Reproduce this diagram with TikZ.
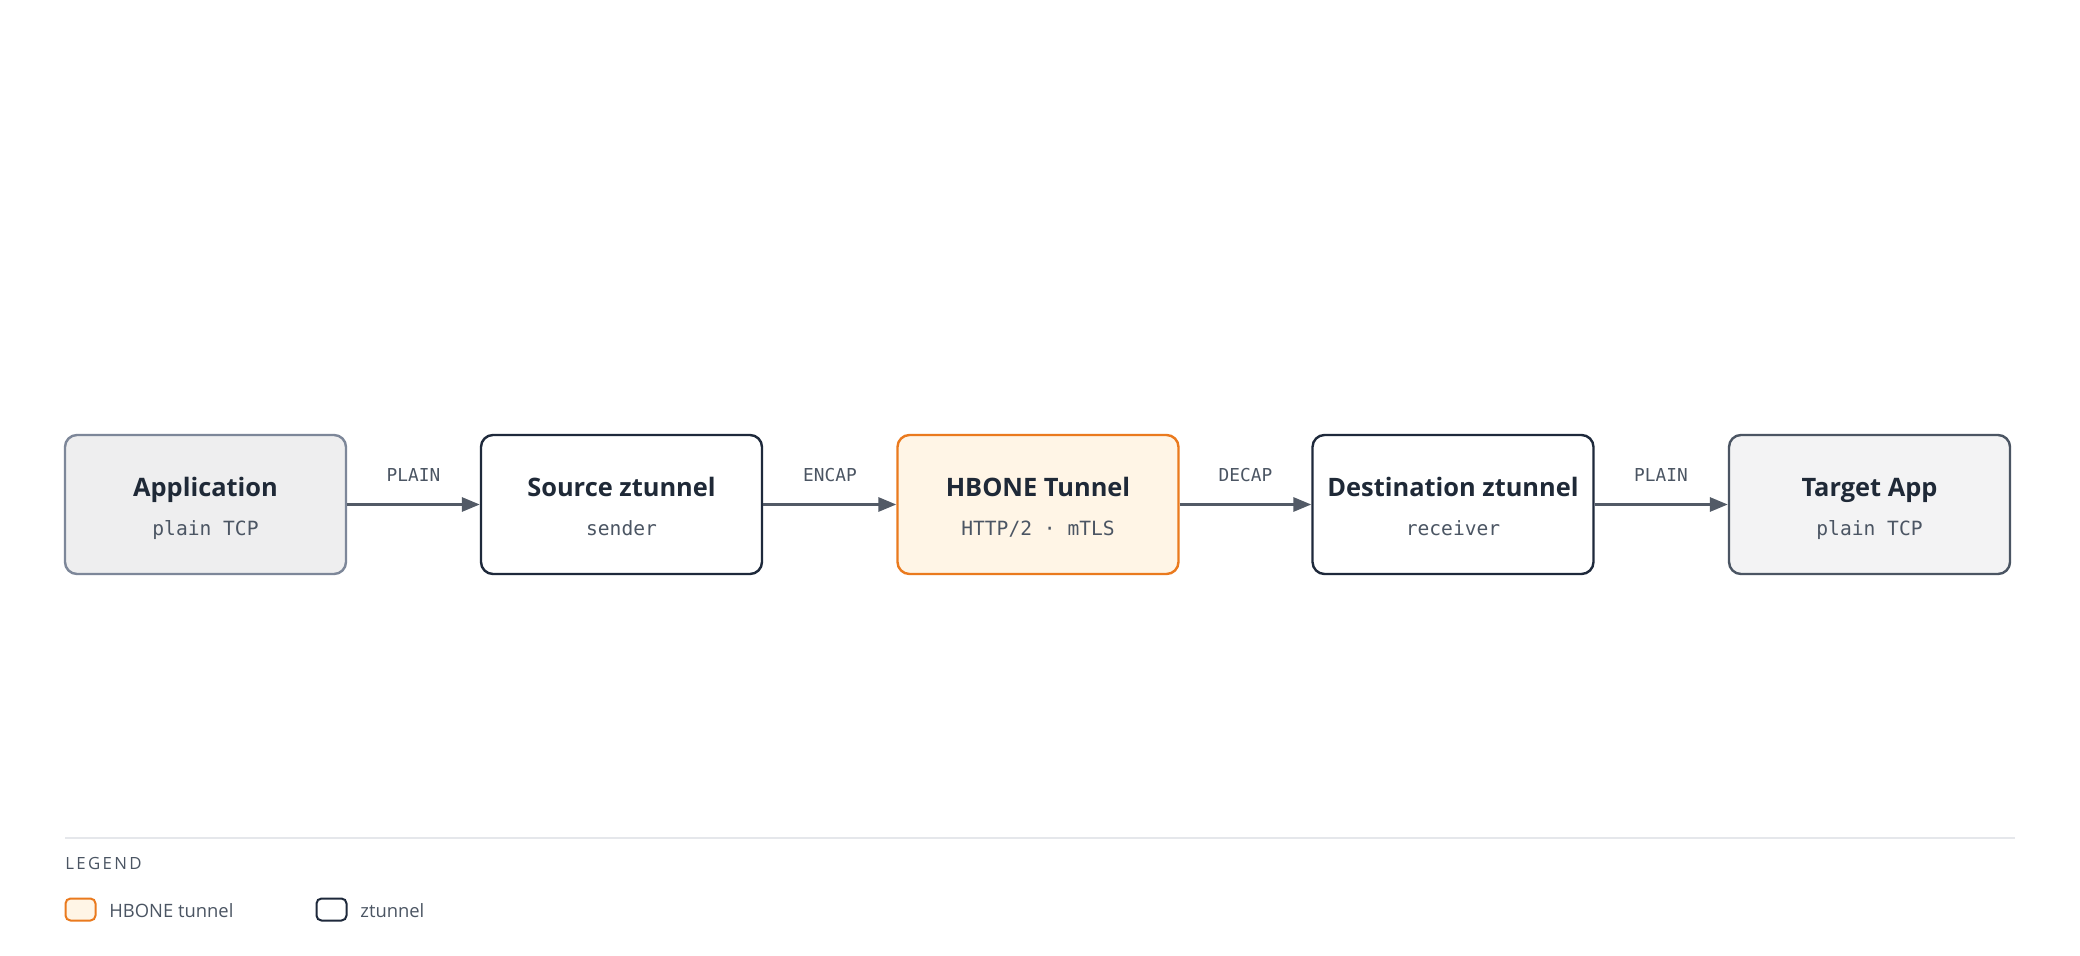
\documentclass[tikz,border=0pt]{standalone}
\usepackage{fontspec}
\setmainfont{Open Sans}
\setmonofont{DejaVu Sans Mono}
\usetikzlibrary{arrows.meta}
\definecolor{titlecol}{HTML}{1F2937}
\definecolor{subcol}{HTML}{4B5563}
\definecolor{arrowcol}{HTML}{525A66}
\definecolor{appfill}{HTML}{EEEEEF}
\definecolor{appdraw}{HTML}{7D8799}
\definecolor{zdraw}{HTML}{1E293B}
\definecolor{hbfill}{HTML}{FFF5E6}
\definecolor{hbdraw}{HTML}{EA7A1E}
\definecolor{tgfill}{HTML}{F3F3F4}
\definecolor{tgdraw}{HTML}{4B5563}
\definecolor{legline}{HTML}{E5E7EB}
\begin{document}
\begin{tikzpicture}[x=0.5pt,y=-0.5pt,
  box/.style={draw, rounded corners=6pt, line width=1.2pt, minimum width=140.5pt, minimum height=69.5pt, inner sep=0pt},
  titletext/.style={anchor=base, inner sep=0pt, font=\fontsize{12.7}{15}\selectfont\bfseries, text=titlecol},
  subtext/.style={anchor=base, inner sep=0pt, font=\ttfamily\fontsize{9.8}{12}\selectfont, text=subcol},
  elabel/.style={anchor=base, inner sep=0pt, font=\ttfamily\fontsize{8.9}{10}\selectfont, text=subcol},
  flow/.style={draw=arrowcol, line width=1.5pt, -{Triangle[length=9pt,width=7pt]}},
  swatch/.style={draw, rounded corners=2.5pt, line width=1pt, minimum width=15pt, minimum height=11pt, inner sep=0pt},
  legtext/.style={anchor=base west, inner sep=0pt, font=\fontsize{9.2}{12}\selectfont, text=subcol}
]
\useasboundingbox[fill=white] (0,0) rectangle (2080,956);

% boxes
\node[box, draw=appdraw, fill=appfill] (app) at (205.5,504.5) {};
\node[box, draw=zdraw, fill=white] (src) at (621.5,504.5) {};
\node[box, draw=hbdraw, fill=hbfill] (hb) at (1038,504.5) {};
\node[box, draw=zdraw, fill=white] (dst) at (1453,504.5) {};
\node[box, draw=tgdraw, fill=tgfill] (tgt) at (1869.5,504.5) {};

% titles
\node[titletext] (appT) at (205.5,496) {Application};
\node[subtext] (appS) at (205.5,535) {plain TCP};
\node[titletext] (srcT) at (621.5,496) {Source ztunnel};
\node[subtext] (srcS) at (621.5,535) {sender};
\node[titletext] (hbT) at (1038,496) {HBONE Tunnel};
\node[subtext] (hbS) at (1038,535) {HTTP/2 · mTLS};
\node[titletext] (dstT) at (1453,496) {Destination ztunnel};
\node[subtext] (dstS) at (1453,535) {receiver};
\node[titletext] (tgtT) at (1869.5,496) {Target App};
\node[subtext] (tgtS) at (1869.5,535) {plain TCP};

% connectors
\draw[flow] (app.east) -- (src.west);
\draw[flow] (src.east) -- (hb.west);
\draw[flow] (hb.east) -- (dst.west);
\draw[flow] (dst.east) -- (tgt.west);

\node[elabel] (l1) at (413.5,481) {PLAIN};
\node[elabel] (l2) at (830,481) {ENCAP};
\node[elabel] (l3) at (1245.5,481) {DECAP};
\node[elabel] (l4) at (1661,481) {PLAIN};

% legend
\draw[legline, line width=1pt] (65,838) -- (2015,838);
\node[anchor=base west, inner sep=0pt, font=\fontsize{8.4}{10}\selectfont\addfontfeatures{LetterSpace=14}, text=subcol] (legT) at (65,869) {LEGEND};
\node[swatch, draw=hbdraw, fill=hbfill] (sw1) at (80.5,909.5) {};
\node[legtext] (sw1T) at (109,917) {HBONE tunnel};
\node[swatch, draw=zdraw, fill=white] (sw2) at (331.5,909.5) {};
\node[legtext] (sw2T) at (360,917) {ztunnel};
\end{tikzpicture}
\end{document}
